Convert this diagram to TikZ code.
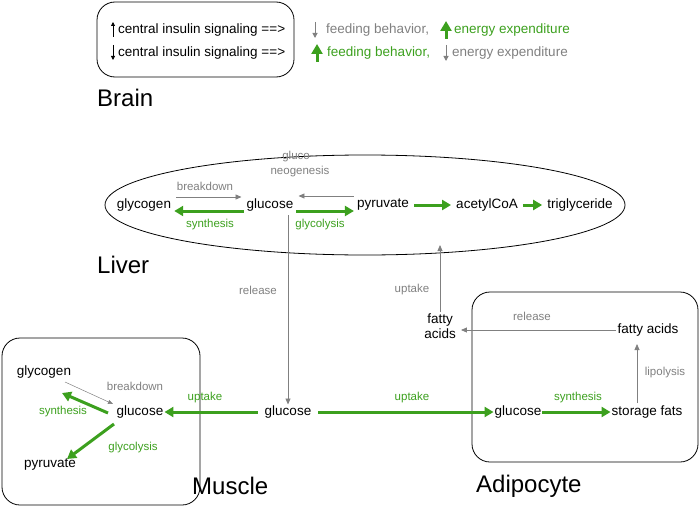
\documentclass[tikz,border=0pt]{standalone}
\usepackage{fontspec}
\setmainfont{Liberation Sans}
\usetikzlibrary{arrows.meta,positioning}
\definecolor{vgreen}{RGB}{60,160,30}
\definecolor{vgray}{RGB}{128,128,128}
\tikzset{
  txt/.style={inner sep=1pt,font=\fontsize{13.5}{15}\selectfont},
  gtxt/.style={txt,text=vgreen,font=\fontsize{11.5}{13}\selectfont},
  ytxt/.style={txt,text=vgray,font=\fontsize{11.5}{13}\selectfont},
  btxt/.style={inner sep=0pt,anchor=west,font=\fontsize{13.5}{15}\selectfont},
  big/.style={inner sep=0pt,font=\fontsize{24}{27}\selectfont},
  garrow/.style={vgreen,line width=3pt,-{Triangle[width=10pt,length=9pt]}},
  yarrow/.style={vgray,line width=0.8pt,-{Triangle[width=5pt,length=6pt]}},
  box/.style={draw,rounded corners=18pt,line width=0.8pt}
}
\begin{document}
\begin{tikzpicture}[x=1pt,y=-1pt]
  \useasboundingbox (0,0) rectangle (700,508);
  % Brain
  \draw[box] (97,2) rectangle (294,77);
  \node[btxt] (s1) at (118,30) {central insulin signaling ==>};
  \node[btxt] (s2) at (118,53) {central insulin signaling ==>};
  \draw[-{Triangle[width=4pt,length=4pt]},line width=0.8pt] (113,37) -- (113,22);
  \draw[-{Triangle[width=4pt,length=4pt]},line width=0.8pt] (113,45) -- (113,60);
  \draw[vgray,-{Triangle[width=5pt,length=5pt]},line width=1pt] (315,22) -- (315,38);
  \node[btxt,text=vgray] (f1) at (326,30) {feeding behavior,};
  \draw[vgreen,-{Triangle[width=11pt,length=10pt]},line width=3pt] (446,39) -- (446,21);
  \node[btxt,text=vgreen] (e1) at (454,30) {energy expenditure};
  \draw[vgreen,-{Triangle[width=11pt,length=10pt]},line width=3pt] (317,62) -- (317,44);
  \node[btxt,text=vgreen] (f2) at (327,53) {feeding behavior,};
  \draw[vgray,-{Triangle[width=5pt,length=5pt]},line width=1pt] (446,45) -- (446,61);
  \node[btxt,text=vgray] (e2) at (452,53) {energy expenditure};
  \node[big,anchor=west] (brain) at (97,98) {Brain};

  % Liver
  \draw[line width=0.8pt] (365,205) ellipse (260 and 50);
  \node[big,anchor=west] (liver) at (97,265) {Liver};
  \node[txt] (lgly) at (144,205) {glycogen};
  \node[txt] (lglc) at (270,205) {glucose};
  \node[txt] (lpyr) at (383,205) {pyruvate};
  \node[txt] (lacc) at (487,205) {acetylCoA};
  \node[txt] (ltri) at (580,205) {triglyceride};
  \draw[yarrow] ([xshift=4,yshift=8]lgly.east) -- ([xshift=-4,yshift=8]lglc.west);
  \node[ytxt] at (205,186) {breakdown};
  \draw[garrow] ([xshift=-2,yshift=-6]lglc.west) -- ([xshift=2,yshift=-6]lgly.east);
  \node[gtxt] at (210,225) {synthesis};
  \draw[yarrow] ([xshift=-2,yshift=9]lpyr.west) -- ([xshift=4,yshift=9]lglc.east);
  \node[ytxt] (gn1) at (298,157) {gluco-};
  \node[ytxt] (gn2) at (300,172) {neogenesis};
  \draw[garrow] ([xshift=2,yshift=-6]lglc.east) -- ([xshift=-2,yshift=-6]lpyr.west);
  \node[gtxt] at (320,225) {glycolysis};
  \draw[garrow] ([xshift=4]lpyr.east) -- ([xshift=-4]lacc.west);
  \draw[garrow] ([xshift=4]lacc.east) -- ([xshift=-4]ltri.west);

  % centre
  \node[txt] (cglc) at (288,412) {glucose};
  \draw[yarrow] (288,215) -- (cglc.north);
  \node[ytxt] at (258,290) {release};
  \node[txt,align=center] (fa1) at (440,326) {fatty\\acids};
  \draw[yarrow] (fa1.north) -- (440,245);
  \node[ytxt] at (412,290) {uptake};

  % Adipocyte
  \draw[box] (472,292) rectangle (698,462);
  \node[big,anchor=west] (adipo) at (476,486) {Adipocyte};
  \node[txt] (fa2) at (648,330) {fatty acids};
  \draw[yarrow] (fa2.west) -- ([xshift=4,yshift=-4]fa1.east);
  \node[ytxt] at (532,316) {release};
  \node[txt] (aglc) at (518,412) {glucose};
  \node[txt] (sfat) at (647,412) {storage fats};
  \draw[yarrow] (637,403) -- (637,344);
  \node[ytxt] at (665,373) {lipolysis};
  \draw[garrow] (aglc.east) -- (sfat.west);
  \node[gtxt] at (578,398) {synthesis};
  \draw[garrow] ([xshift=6]cglc.east) -- (aglc.west);
  \node[gtxt] at (412,398) {uptake};

  % Muscle
  \draw[box] (2,338) rectangle (200,505);
  \node[big,anchor=west] (muscle) at (192,486) {Muscle};
  \node[txt] (mglc) at (140,412) {glucose};
  \node[txt] (mgly) at (44,372) {glycogen};
  \node[txt] (mpyr) at (50,465) {pyruvate};
  \draw[garrow] ([xshift=-6]cglc.west) -- (mglc.east);
  \node[gtxt] at (205,398) {uptake};
  \draw[vgray,line width=0.5pt,-{Triangle[width=4pt,length=5pt]}] (65,382) -- (113,404);
  \node[ytxt] at (135,386) {breakdown};
  \draw[garrow] (108,413) -- (62,393);
  \node[gtxt] at (63,412) {synthesis};
  \draw[garrow] (114,424) -- (67,459);
  \node[gtxt] at (133,448) {glycolysis};
\end{tikzpicture}
\end{document}
